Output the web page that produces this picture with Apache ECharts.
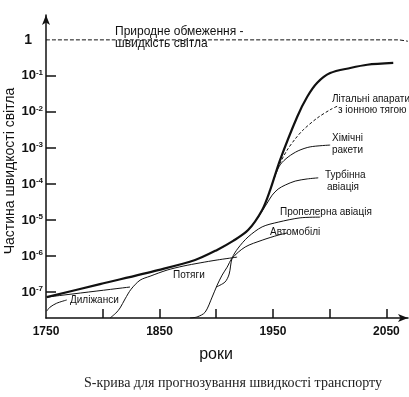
<!DOCTYPE html>
<html><head><meta charset="utf-8">
<script src="https://cdn.jsdelivr.net/npm/echarts@6/dist/echarts.min.js"></script>
<style>html,body{margin:0;padding:0;background:#fff}#c{width:409px;height:397px}</style>
</head><body><div id="c"></div>
<script>
// values: [year, log10(fraction of light speed)]
const lightLimit = [[1750,0],[2060,0],[2069,-0.04]];
const envelope = [[1750.6,-7.14],[1797.6,-6.78],[1848.8,-6.39],[1881.4,-6.11],[1900.8,-5.83],[1914.9,-5.58],[1928.1,-5.28],[1940.5,-4.72],[1947.5,-4.17],[1956.3,-3.33],[1971.3,-2.14],[1980.2,-1.58],[1989.0,-1.19],[2000.4,-0.92],[2018.1,-0.78],[2033.1,-0.69],[2056.0,-0.64]];
const ionCraft = [[1951.1,-3.83],[1956.3,-3.42],[1962.5,-3.06],[1969.6,-2.75],[1976.6,-2.5],[1989.0,-2.17],[2000.4,-1.94],[2007.5,-1.83]];
const chemRockets = [[1951.1,-3.83],[1956.3,-3.47],[1963.4,-3.25],[1972.2,-3.08],[1982.8,-2.97],[2000.4,-2.92]];
const turbineAviation = [[1936.1,-4.97],[1940.5,-4.75],[1944.9,-4.53],[1949.3,-4.31],[1954.6,-4.14],[1960.8,-4.03],[1969.6,-3.92],[1980.2,-3.86],[1989.9,-3.83]];
const propellerAviation = [[1900.0,-6.86],[1907.8,-6.72],[1911.4,-6.5],[1914.0,-6.06],[1919.3,-5.78],[1928.1,-5.47],[1940.5,-5.19],[1954.6,-5.06],[1974.0,-4.94],[1991.6,-4.92]];
const cars = [[1877.0,-7.72],[1883.2,-7.69],[1890.2,-7.56],[1896.4,-7.14],[1900.8,-6.81],[1905.2,-6.53],[1909.6,-6.31],[1914.0,-6.06],[1925.5,-5.75],[1940.5,-5.56],[1954.6,-5.42],[1962.5,-5.36]];
const trains = [[1806.4,-7.72],[1811.7,-7.58],[1815.3,-7.44],[1819.7,-7.19],[1825.0,-6.92],[1832.9,-6.67],[1841.7,-6.56],[1856.7,-6.39],[1870.8,-6.28],[1885.8,-6.19],[1900.8,-6.11],[1918.4,-6.03]];
const stagecoachUpper = [[1750.6,-7.14],[1824.0,-6.86]];
const stagecoachLower = [[1750.6,-7.53],[1753.5,-7.42],[1759.4,-7.31],[1768.3,-7.22]];
const xTicks = [1800,1850,1900,1950,2000,2050];
const xLabels = [1750,1850,1950,2050];
const yTicks = [-7,-6,-5,-4,-3,-2,-1];
const yLabels = [0,-1,-2,-3,-4,-5,-6,-7];

const ink = '#111';
function line(data, width, dashed) {
  return {type:'line', data:data, showSymbol:false, silent:true, smooth:0.3,
    lineStyle:{color:ink, width:width, type: dashed ? dashed : 'solid'}};
}
const labelFont = 'Liberation Sans, Arial, sans-serif';
function txt(t, x, y, size, extra) {
  return Object.assign({type:'text', x:x, y:y, silent:true,
    style:{text:t, fontSize:size, fontFamily:labelFont, fill:ink, align:'left', verticalAlign:'middle'}}, extra||{});
}
const chart = echarts.init(document.getElementById('c'), null, {renderer:'canvas'});
chart.setOption({
  animation:false,
  backgroundColor:'#fff',
  grid:{left:46, right:1, top:15, bottom:79, containLabel:false},
  xAxis:{type:'value', min:1750, max:2069,
    axisLine:{onZero:false, symbol:['none','arrow'], symbolSize:[6,10], lineStyle:{color:ink, width:1.5}},
    axisTick:{inside:true, length:9, customValues:xTicks, lineStyle:{color:ink, width:1.5}},
    axisLabel:{customValues:xLabels, margin:8, color:ink, fontSize:12, fontWeight:'bold', fontFamily:labelFont,
      formatter:function(v){ return String(v); }},
    splitLine:{show:false}},
  yAxis:{type:'value', min:-7.72, max:0.69,
    axisLine:{show:true, onZero:false, symbol:['none','arrow'], symbolSize:[6,10], lineStyle:{color:ink, width:1.5}},
    axisTick:{show:true, inside:true, length:10, customValues:yTicks, lineStyle:{color:ink, width:1.5}},
    axisLabel:{customValues:yLabels, margin:3, color:ink, fontFamily:labelFont,
      formatter:function(v){ return v === 0 ? '{one|1}' : '{b|10}{s|' + v + '}'; },
      rich:{
        one:{fontSize:14, fontWeight:'bold', fontFamily:labelFont, color:ink, padding:[0,11,0,0]},
        b:{fontSize:13, fontWeight:'bold', fontFamily:labelFont, color:ink},
        s:{fontSize:8, fontWeight:'bold', fontFamily:labelFont, color:ink, verticalAlign:'top', padding:[0,0,7,0]}
      }},
    splitLine:{show:false}},
  series:[
    line(lightLimit, 1, [4,2]),
    line(envelope, 2.2),
    line(ionCraft, 1, [3,2]),
    line(chemRockets, 1),
    line(turbineAviation, 1),
    line(propellerAviation, 1),
    line(cars, 1),
    line(trains, 1),
    line(stagecoachUpper, 1),
    line(stagecoachLower, 1)
  ],
  graphic:[
    txt('Природне обмеження -', 115, 32, 12),
    txt('швидкість світла', 115, 44, 12),
    txt('', 10, 171, 14, {rotation:Math.PI/2, style:{text:'Частина швидкості світла', fontSize:14, fontFamily:labelFont, fill:ink, align:'center', verticalAlign:'middle'}}),
    txt('Літальні апарати', 332, 99, 10),
    txt('з іонною тягою', 338, 110, 10),
    txt('Хімічні', 332, 138, 10),
    txt('ракети', 332, 150, 10),
    txt('Турбінна', 325, 175, 10),
    txt('авіація', 327, 187, 10),
    txt('Пропелерна авіація', 280, 212, 10),
    txt('Автомобілі', 270, 232, 10),
    txt('Потяги', 173, 275, 10),
    txt('Диліжанси', 70, 300, 10),
    txt('', 216, 355, 16, {style:{text:'роки', fontSize:16, fontFamily:labelFont, fill:ink, align:'center', verticalAlign:'middle'}}),
    txt('', 233, 383, 14, {style:{text:'S-крива для прогнозування швидкості транспорту', fontSize:14, fontFamily:'Liberation Serif, Times New Roman, serif', fill:'#222', align:'center', verticalAlign:'middle'}})
  ]
});
</script></body></html>
